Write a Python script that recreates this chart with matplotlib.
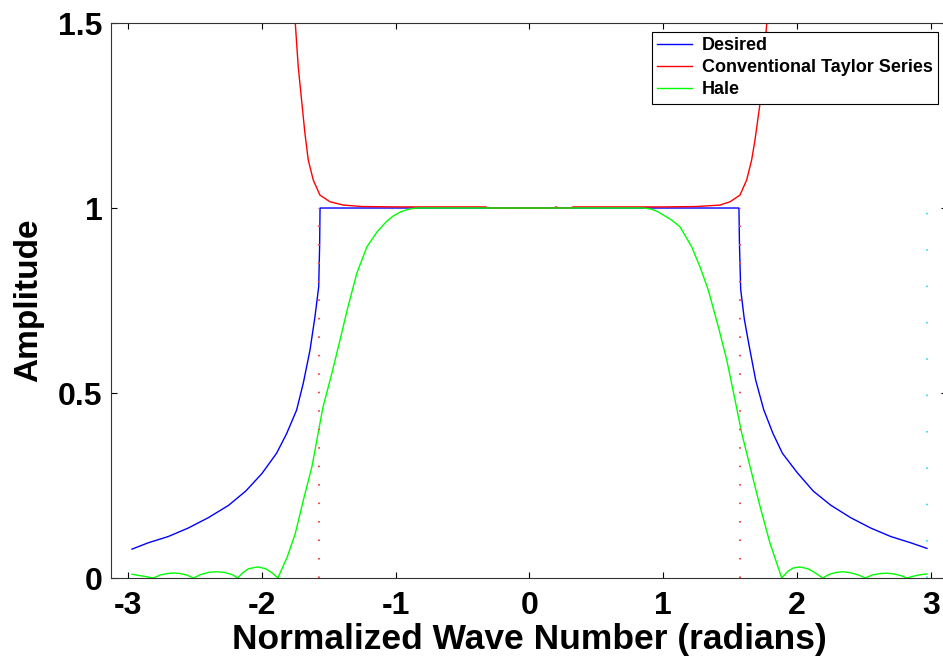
import matplotlib
matplotlib.use("Agg")
import matplotlib.pyplot as plt

plt.rcParams['font.family'] = ['Liberation Sans', 'DejaVu Sans']
plt.rcParams['font.weight'] = 'bold'
plt.rcParams['axes.unicode_minus'] = False

# Desired response
des_x = [-2.97, -2.85, -2.70, -2.55, -2.40, -2.25, -2.12, -2.00, -1.89, -1.815, -1.74, -1.69,
         -1.64, -1.603, -1.575, -1.568, -1.565,
         1.565, 1.569, 1.578, 1.605, 1.64, 1.69, 1.75, 1.82, 1.89, 2.00, 2.12, 2.25, 2.40,
         2.55, 2.70, 2.85, 2.97]
des_y = [0.078, 0.095, 0.112, 0.135, 0.163, 0.196, 0.235, 0.282, 0.337, 0.39, 0.454, 0.527,
         0.616, 0.706, 0.787, 0.90, 1.0,
         1.0, 0.90, 0.78, 0.70, 0.63, 0.535, 0.455, 0.39, 0.337, 0.285, 0.235, 0.197, 0.163,
         0.135, 0.112, 0.095, 0.080]

# Conventional Taylor series
tay_x = [-1.78, -1.75, -1.728, -1.703, -1.678, -1.653, -1.616, -1.566, -1.491, -1.392, -1.25,
         -1.0, -0.5, -0.33, -0.30, 0.18, 0.20, 0.22, 0.30, 0.33, 0.5, 1.0, 1.25, 1.424, 1.499,
         1.573, 1.623, 1.66, 1.685, 1.723, 1.773, 1.80]
tay_y = [1.65, 1.50, 1.382, 1.292, 1.202, 1.13, 1.076, 1.035, 1.017, 1.008, 1.004,
         1.003, 1.003, 1.003, 1.0, 1.0, 1.003, 1.0, 1.0, 1.003, 1.003, 1.003, 1.004, 1.008, 1.017,
         1.035, 1.076, 1.13, 1.184, 1.284, 1.50, 1.65]

# Hale
hale_x = [-2.97, -2.92, -2.87, -2.81, -2.76, -2.71, -2.66, -2.61, -2.56, -2.51, -2.46, -2.40,
          -2.34, -2.28, -2.22, -2.18, -2.14, -2.10, -2.03, -1.97, -1.92, -1.88, -1.81, -1.75,
          -1.69, -1.626, -1.58, -1.543, -1.476, -1.416, -1.357, -1.29, -1.215, -1.14, -1.07,
          -1.02, -0.96, -0.90, -0.84,
          0.85, 0.91, 0.96, 1.0, 1.06, 1.125, 1.212, 1.274, 1.336, 1.411, 1.474, 1.536, 1.586,
          1.648, 1.723, 1.797, 1.885, 1.93, 1.97, 2.02, 2.08, 2.13, 2.19, 2.24, 2.29, 2.34,
          2.40, 2.46, 2.51, 2.56, 2.62, 2.67, 2.72, 2.77, 2.82, 2.87, 2.92, 2.97]
hale_y = [0.010, 0.007, 0.004, 0.0, 0.008, 0.012, 0.0135, 0.012, 0.008, 0.0, 0.009, 0.015,
          0.017, 0.015, 0.009, 0.0, 0.015, 0.025, 0.030, 0.025, 0.013, 0.0, 0.057, 0.12,
          0.21, 0.30, 0.39, 0.462, 0.554, 0.643, 0.732, 0.824, 0.895, 0.935, 0.963,
          0.978, 0.990, 0.997, 1.0,
          1.0, 0.997, 0.990, 0.981, 0.968, 0.949, 0.895, 0.841, 0.778, 0.679, 0.589, 0.481,
          0.391, 0.301, 0.193, 0.094, 0.0, 0.018, 0.027, 0.030, 0.025, 0.015, 0.0, 0.010,
          0.015, 0.017, 0.014, 0.008, 0.0, 0.008, 0.012, 0.013, 0.011, 0.007, 0.0, 0.005,
          0.009, 0.011]

band_edges = [-1.5708, 1.5708]
cyan_x = 2.97

fig = plt.figure(figsize=(9.43, 6.56), dpi=100)
ax = fig.add_axes([0.1177, 0.1189, 0.8866, 0.846])

ax.plot(des_x, des_y, color='#0000ff', lw=1.0, label='Desired')
ax.plot(tay_x, tay_y, color='#ff0000', lw=1.0, label='Conventional Taylor Series')
ax.plot(hale_x, hale_y, color='#00ff00', lw=1.0, label='Hale')

for bx in band_edges:
    ax.plot([bx, bx], [0, 1], color='#ff4040', lw=1.4, ls=(0, (0.8, 8.7)))
ax.plot([cyan_x, cyan_x], [0, 1], color='#40e0f0', lw=1.4, ls=(0, (0.8, 17.9)))

ax.set_xlim(-3.127, 3.12)
ax.set_ylim(0, 1.5)
ax.set_xticks([-3, -2, -1, 0, 1, 2, 3])
ax.set_xticklabels(['-3', '-2', '-1', '0', '1', '2', '3'])
ax.set_yticks([0, 0.5, 1, 1.5])
ax.set_yticklabels(['0', '0.5', '1', '1.5'])
ax.tick_params(direction='in', length=4.5, width=0.8, top=True, right=True,
               labelsize=23, colors='k')
ax.tick_params(axis='x', pad=9)
ax.tick_params(axis='y', pad=6)
for s in ax.spines.values():
    s.set_linewidth(0.8)
    s.set_color('#333333')

ax.set_xlabel('Normalized Wave Number (radians)', fontsize=25.5, fontweight='bold', labelpad=2)
ax.set_ylabel('Amplitude', fontsize=24, fontweight='bold', labelpad=10)

leg = ax.legend(loc='upper right', bbox_to_anchor=(0.989, 0.984), borderaxespad=0,
                fontsize=13, handlelength=1.9, handletextpad=0.55, labelspacing=0.28,
                borderpad=0.3, fancybox=False, framealpha=1, edgecolor='k')
leg.get_frame().set_linewidth(0.8)

fig.savefig('out.png', dpi=100)
